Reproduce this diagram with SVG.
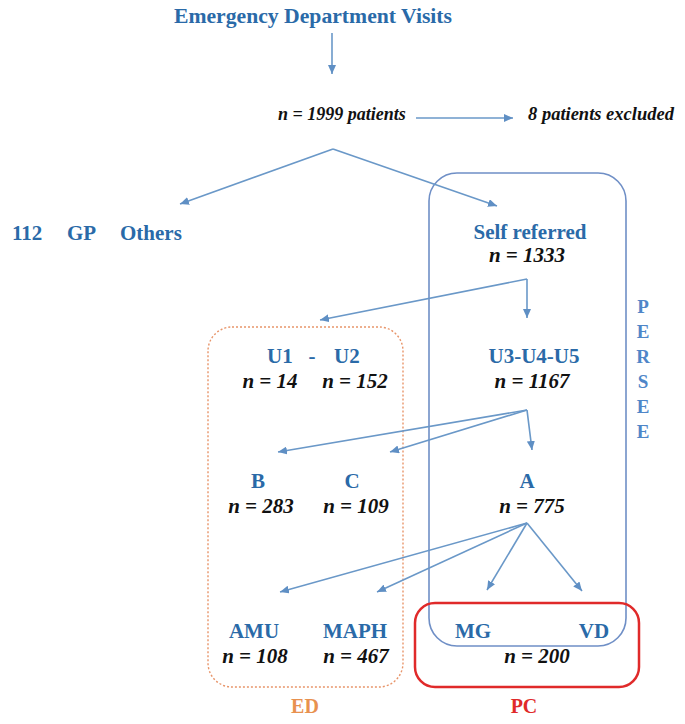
<svg xmlns="http://www.w3.org/2000/svg" width="685" height="724" viewBox="0 0 685 724">
<style>
.lbl{font-family:"Liberation Serif","Times New Roman",serif;font-weight:bold;fill:#2a6aa8;font-size:21px}
.num{font-family:"Liberation Serif","Times New Roman",serif;font-weight:bold;font-style:italic;fill:#111;font-size:21px}
.c{text-anchor:middle}
.conn{stroke:#6a98c8;stroke-width:1.6;fill:none}
.arr{marker-end:url(#ah)}
.pl{font-size:19px;fill:#4f86c8}
</style>
<defs>
<marker id="ah" markerUnits="userSpaceOnUse" markerWidth="9" markerHeight="8" refX="9" refY="4" orient="auto">
<path d="M0,0 L9,4 L0,8 z" fill="#5f8fc4"/>
</marker>
</defs>
<rect width="685" height="724" fill="#fff"/>

<g id="boxes">
<rect id="persee-box" x="429" y="173" width="197" height="473" rx="28" fill="none" stroke="#6f8fc6" stroke-width="1.6"/>
<rect id="ed-box" x="208" y="327" width="195" height="360" rx="24" fill="none" stroke="#e8956a" stroke-width="1.4" stroke-dasharray="2,2"/>
<rect id="pc-box" x="415" y="603" width="224" height="84" rx="20" fill="none" stroke="#e02a2a" stroke-width="2.5"/>
</g>

<g id="connectors">
<line class="conn arr" x1="332" y1="33" x2="332" y2="74"/>
<line class="conn arr" x1="416" y1="118" x2="513" y2="118"/>
<line class="conn arr" x1="333" y1="149" x2="180" y2="204"/>
<line class="conn arr" x1="333" y1="149" x2="497" y2="206"/>
<line class="conn arr" x1="527" y1="279" x2="320" y2="320"/>
<line class="conn arr" x1="527" y1="279" x2="527" y2="318"/>
<line class="conn arr" x1="527" y1="410" x2="278" y2="452"/>
<line class="conn arr" x1="527" y1="410" x2="390" y2="452"/>
<line class="conn arr" x1="527" y1="410" x2="532" y2="450"/>
<line class="conn arr" x1="527" y1="523" x2="280" y2="592"/>
<line class="conn arr" x1="527" y1="523" x2="377" y2="592"/>
<line class="conn arr" x1="527" y1="523" x2="487" y2="590"/>
<line class="conn arr" x1="527" y1="523" x2="582" y2="591"/>
</g>

<g id="title">
<text class="lbl c" x="313" y="23" style="font-size:21.5px" textLength="278" lengthAdjust="spacingAndGlyphs">Emergency Department Visits</text>
</g>
<g id="total">
<text class="num" x="278" y="120" style="font-size:18px">n = 1999 patients</text>
</g>
<g id="excluded">
<text class="num" x="528" y="120" style="font-size:18.5px">8 patients excluded</text>
</g>
<g id="others">
<text class="lbl" x="12" y="240">112</text>
<text class="lbl" x="67" y="240">GP</text>
<text class="lbl" x="120" y="240">Others</text>
</g>
<g id="self-referred">
<text class="lbl c" x="530" y="239">Self referred</text>
<text class="num c" x="527" y="262">n = 1333</text>
</g>
<g id="u1-u2">
<text class="lbl" x="267" y="363">U1</text>
<text class="lbl c" x="312" y="363">-</text>
<text class="lbl" x="334" y="363">U2</text>
<text class="num c" x="270" y="388">n = 14</text>
<text class="num c" x="355" y="388">n = 152</text>
</g>
<g id="u3-u4-u5">
<text class="lbl c" x="534" y="363">U3-U4-U5</text>
<text class="num c" x="532" y="388">n = 1167</text>
</g>
<g id="b">
<text class="lbl c" x="258" y="488">B</text>
<text class="num c" x="261" y="513">n = 283</text>
</g>
<g id="c">
<text class="lbl c" x="352" y="488">C</text>
<text class="num c" x="356" y="513">n = 109</text>
</g>
<g id="a">
<text class="lbl c" x="527" y="488">A</text>
<text class="num c" x="532" y="513">n = 775</text>
</g>
<g id="amu">
<text class="lbl c" x="254" y="638">AMU</text>
<text class="num c" x="255" y="663">n = 108</text>
</g>
<g id="maph">
<text class="lbl c" x="355" y="638">MAPH</text>
<text class="num c" x="356" y="663">n = 467</text>
</g>
<g id="mg-vd">
<text class="lbl c" x="473" y="638">MG</text>
<text class="lbl c" x="594" y="638">VD</text>
<text class="num c" x="537" y="663">n = 200</text>
</g>
<g id="persee-label">
<text class="lbl c pl" x="643" y="313">P</text>
<text class="lbl c pl" x="643" y="338">E</text>
<text class="lbl c pl" x="643" y="363">R</text>
<text class="lbl c pl" x="643" y="388">S</text>
<text class="lbl c pl" x="643" y="413">E</text>
<text class="lbl c pl" x="643" y="438">E</text>
</g>
<g id="ed-label">
<text class="lbl c" x="305" y="713" style="font-size:20px;fill:#e8914f">ED</text>
</g>
<g id="pc-label">
<text class="lbl c" x="524" y="713" style="font-size:20px;fill:#e02a2a">PC</text>
</g>
</svg>
